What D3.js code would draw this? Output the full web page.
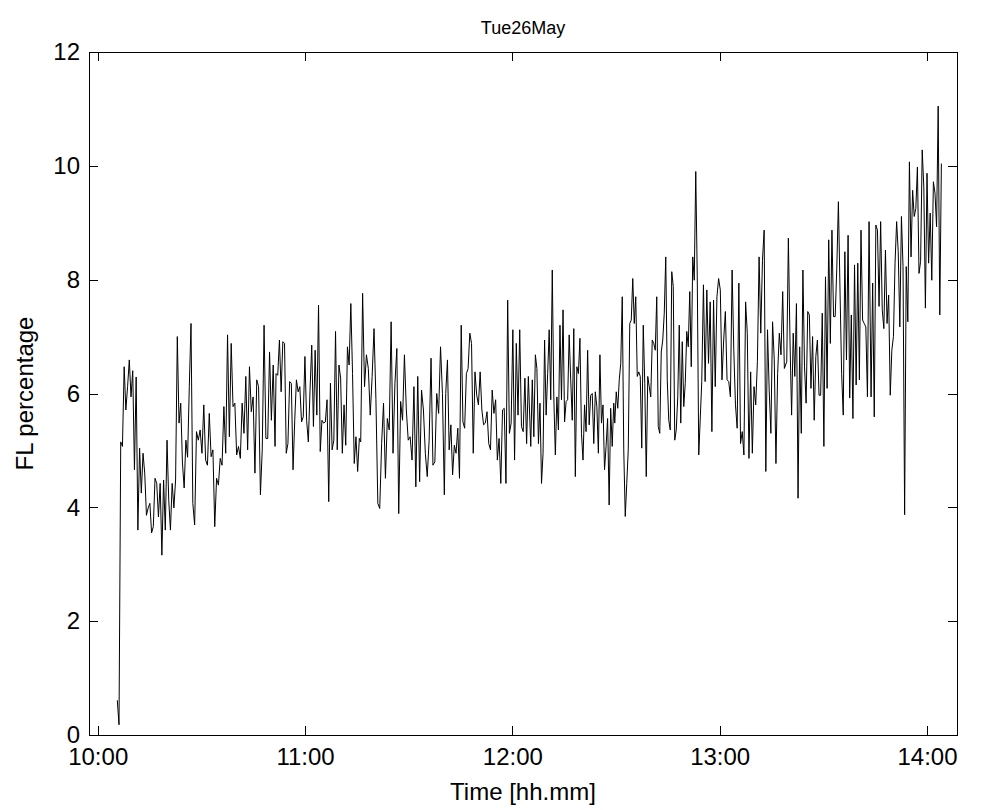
<!DOCTYPE html>
<html><head><meta charset="utf-8">
<script src="https://cdn.jsdelivr.net/npm/d3@7"></script>
<style>
body{margin:0;background:#fff}
svg{display:block}
text{font-family:"Liberation Sans",Arial,Helvetica,sans-serif;fill:#000}
</style>
</head><body>
<svg id="chart" width="998" height="810"></svg>
<script>
const chartTitle = "Tue26May";
const xLabel = "Time [hh.mm]";
const yLabel = "FL percentage";
const xTickTimes = ["10:00","11:00","12:00","13:00","14:00"];
const yTicks = [0,2,4,6,8,10,12];
// x axis limits, minutes after 10:00
const xDomainMin = [-2.52, 248.69];
const yDomain = [0,12];
// the trace read in ten consecutive windows: first / last sample time (minutes after 10:00)
const segStartMin = [5.67, 27.0, 51.61, 76.12, 100.72, 125.33, 149.64, 174.82, 199.42, 223.82];
const segEndMin   = [26.51, 51.32, 75.72, 100.32, 124.63, 149.35, 173.95, 198.73, 223.24, 244.17];
const fl1 = [0.61,0.18,5.15,5.07,6.47,5.71,6.12,6.59,5.94,6.4,4.66,6.29,3.6,5.04,4.25,4.95,4.6,3.86,3.99,4.07,3.55,3.66,4.51,4.42,3.83,4.42,3.16,4.48,3.6,5.18,4.13,3.6,4.42,3.99,4.48,7.0,5.48,5.83,4.78,4.34,5.18,4.88,6.12];
const fl2 = [7.23,4.07,3.69,5.33,5.18,5.36,4.95,5.8,4.83,4.74,5.65,4.89,5.01,3.66,4.51,4.39,4.86,4.74,5.77,4.95,7.03,5.24,6.88,5.77,5.83,4.92,5.07,4.86,5.83,5.3,6.3,5.01,6.47,5.68,5.94,4.6,6.24,6.12,4.22,5.01,7.2,5.21,5.21,6.73,5.53,6.5,5.07];
const fl3 = [6.35,6.32,6.94,6.03,6.91,6.88,4.95,5.12,6.21,6.18,4.66,5.53,6.24,6.03,6.12,5.5,5.59,6.65,5.53,5.15,6.06,6.85,5.42,6.76,5.62,7.55,4.98,5.53,5.48,5.5,5.89,4.1,6.18,5.01,5.18,7.09,5.01,6.5,6.27,4.95,5.8,5.09,6.82,6.5,7.58,6.35,4.77,5.24,4.63,5.21];
const fl4 = [5.15,7.76,6.12,6.68,6.44,5.62,6.3,7.14,5.89,4.07,3.98,5.12,5.83,4.51,5.56,5.36,7.26,4.95,6.18,6.79,3.89,5.86,5.53,6.68,5.71,5.18,5.24,4.83,6.12,4.36,6.3,4.45,6.06,5.71,4.95,4.54,5.18,6.62,4.74,4.8,6.0,5.65,6.82,6.0,4.22];
const fl5 = [6.0,6.59,5.01,5.45,4.57,5.09,4.95,5.39,4.51,7.2,5.5,5.39,6.35,6.44,7.06,6.88,4.95,6.38,5.97,5.8,6.38,5.71,5.45,5.48,5.68,5.12,5.01,6.06,5.65,5.89,4.83,5.21,4.42,5.71,5.74,4.42,7.64,5.3,5.48,7.12,4.83,6.88,5.62,7.12,5.42,5.33,6.27,5.12,6.3];
const fl6 = [5.07,6.24,5.24,6.68,6.44,5.12,5.83,4.42,4.95,6.94,5.62,6.35,7.12,5.89,8.17,5.94,4.92,5.94,5.36,7.2,5.89,7.47,5.5,5.86,5.89,7.03,6.24,5.53,7.14,4.54,6.47,6.35,6.97,5.3,4.83,5.8,5.33,6.76,5.45,5.97,6.0,5.12,6.03,5.77,4.95,6.68,5.48,5.8,4.66,5.07,5.56,4.04,5.74,5.07,5.83];
const fl7 = [5.48,6.03,5.74,6.24,6.53,7.7,5.01,3.84,4.42,5.01,7.23,7.29,8.02,7.23,7.7,6.3,6.38,6.3,5.04,7.2,6.18,4.54,6.3,6.12,5.94,6.94,6.88,6.76,7.7,5.42,5.3,6.73,6.94,7.41,8.4,6.24,5.53,5.36,8.14,7.88,5.18,5.36,5.94,7.2,5.48,6.91,5.77,6.18,7.09,6.82,7.79,6.47,8.4,7.99,9.9,8.05,4.92];
const fl8 = [6.21,7.91,6.21,7.82,6.53,7.61,5.33,7.64,6.12,7.7,8.02,7.82,6.24,6.94,7.44,6.24,6.21,5.94,8.17,6.76,5.8,5.39,7.94,5.12,5.33,4.92,7.61,7.06,4.86,6.38,4.95,6.12,5.8,6.56,8.4,7.06,8.34,8.87,4.63,7.12,6.06,5.3,7.26,6.59,4.77,6.35,7.06,6.68,7.79,6.44];
const fl9 = [6.56,8.73,6.94,5.62,7.06,6.3,7.58,4.16,6.82,5.3,8.17,6.47,5.83,7.44,7.38,6.09,7.0,5.53,6.65,6.94,5.97,5.97,7.41,5.07,8.05,6.09,8.7,6.88,8.87,7.35,7.35,8.2,9.37,7.82,6.35,5.62,8.49,6.59,8.78,5.92,7.38,5.56,8.26,6.15,8.29,6.24,8.87,7.29,7.23,7.17,5.94,9.02];
const fl10 = [5.94,7.94,5.59,8.96,8.87,7.53,9.02,7.47,7.14,8.52,7.23,7.73,5.97,6.76,7.0,8.29,9.02,8.49,7.17,9.11,8.23,3.87,8.23,7.26,10.07,8.4,9.57,9.11,9.25,9.98,8.11,8.32,10.28,9.63,7.5,9.87,8.29,9.17,7.99,9.72,9.52,8.93,11.05,7.38,10.04];
const segments = [fl1, fl2, fl3, fl4, fl5, fl6, fl7, fl8, fl9, fl10];

const W = 998, H = 810;
const plot = {left: 89, right: 957, top: 52, bottom: 735};
const tickLen = 9;
const fontSize = 24;

const parseHM = d3.timeParse("%H:%M");
const base = parseHM("10:00");
const atMin = m => new Date(+base + m * 60000);

const series = [];
segments.forEach((seg, k) => {
  const a = segStartMin[k], b = segEndMin[k], n = seg.length;
  seg.forEach((v, i) => series.push({t: atMin(a + (b - a) * i / (n - 1)), v}));
});

const x = d3.scaleTime().domain(xDomainMin.map(atMin)).range([plot.left, plot.right]);
const y = d3.scaleLinear().domain(yDomain).range([plot.bottom, plot.top]);
const xTickVals = xTickTimes.map(parseHM);
const fmt = d3.timeFormat("%H:%M");

const svg = d3.select("#chart");
svg.append("rect").attr("width", W).attr("height", H).attr("fill", "#fff");

svg.append("path")
  .datum(series)
  .attr("fill", "none")
  .attr("stroke", "#000")
  .attr("stroke-width", 1)
  .attr("d", d3.line().x(d => x(d.t)).y(d => y(d.v)));

function styleAxis(g) {
  g.attr("shape-rendering", "crispEdges");
  g.selectAll("path,line").attr("stroke", "#000").attr("stroke-width", 1);
  g.selectAll("text").attr("font-size", fontSize).attr("fill", "#000")
    .attr("font-family", '"Liberation Sans",Arial,Helvetica,sans-serif');
}

svg.append("g").attr("transform", `translate(0,${plot.bottom})`)
  .call(d3.axisBottom(x).tickValues(xTickVals).tickFormat(fmt).tickSizeInner(-tickLen).tickSizeOuter(0).tickPadding(13))
  .call(styleAxis);
svg.append("g").attr("transform", `translate(0,${plot.top})`)
  .call(d3.axisTop(x).tickValues(xTickVals).tickFormat("").tickSizeInner(-tickLen).tickSizeOuter(0))
  .call(styleAxis);
svg.append("g").attr("transform", `translate(${plot.left},0)`)
  .call(d3.axisLeft(y).tickValues(yTicks).tickFormat(d3.format("d")).tickSizeInner(-tickLen).tickSizeOuter(0).tickPadding(9))
  .call(styleAxis);
svg.append("g").attr("transform", `translate(${plot.right},0)`)
  .call(d3.axisRight(y).tickValues(yTicks).tickFormat("").tickSizeInner(-tickLen).tickSizeOuter(0))
  .call(styleAxis);

svg.append("text").attr("x", (plot.left + plot.right) / 2).attr("y", 34)
  .attr("text-anchor", "middle").attr("font-size", 18).text(chartTitle);
svg.append("text").attr("x", (plot.left + plot.right) / 2).attr("y", 800)
  .attr("text-anchor", "middle").attr("font-size", fontSize).text(xLabel);
svg.append("text").attr("transform", `translate(33,${(plot.top + plot.bottom) / 2}) rotate(-90)`)
  .attr("text-anchor", "middle").attr("font-size", fontSize).text(yLabel);
</script>
</body></html>
